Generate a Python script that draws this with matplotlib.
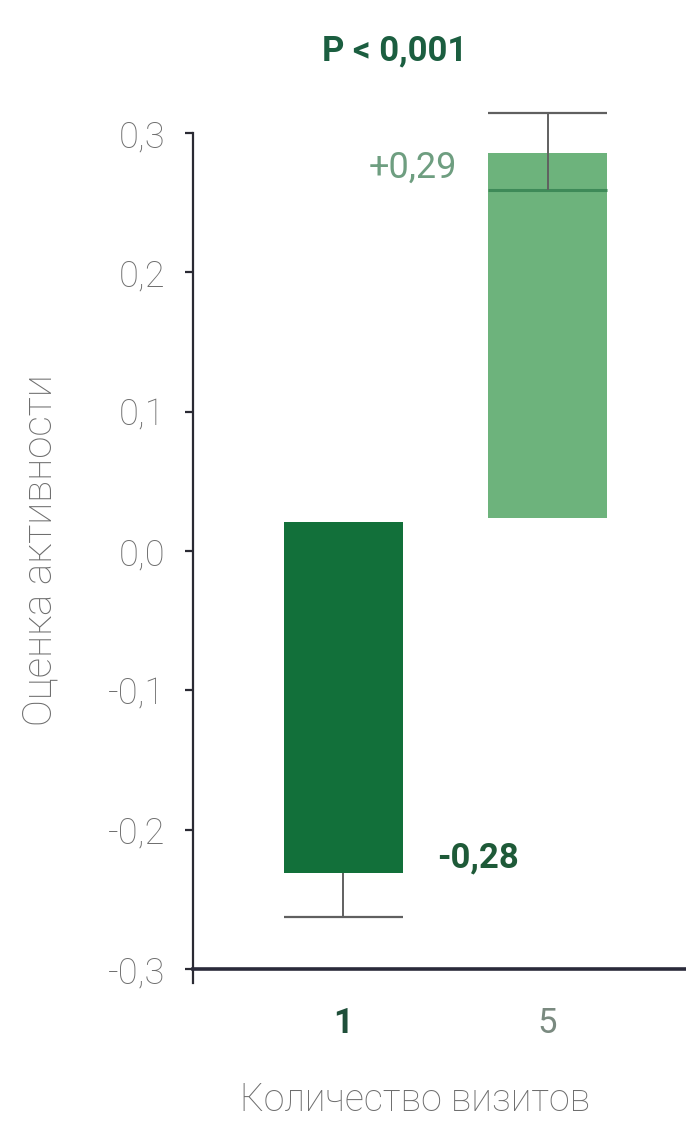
import matplotlib
matplotlib.use("Agg")
import matplotlib.pyplot as plt
import numpy as np

plt.rcParams['font.family'] = ['Roboto', 'DejaVu Sans']

# ---- data ----
categories = ["1", "5"]
bar_bottom = [-0.231, 0.024]
bar_top = [0.021, 0.286]
mean_line = [None, 0.259]
err_from = [-0.231, 0.259]
err_to = [-0.2625, 0.314]
value_labels = ["-0,28", "+0,29"]
yticks = [-0.3, -0.2, -0.1, 0.0, 0.1, 0.2, 0.3]
ytick_labels = ["-0,3", "-0,2", "-0,1", "0,0", "0,1", "0,2", "0,3"]
p_text = "P < 0,001"
ylabel = "Оценка активности"
xlabel = "Количество визитов"

bar_colors = ["#12703A", "#6DB37C"]
label_colors = ["#1E5A38", "#6E9E80"]
label_weights = ["bold", "normal"]
tick_colors = ["#1F4F3A", "#7A8A80"]

W, H = 686, 1123
fig = plt.figure(figsize=(W / 100, H / 100), dpi=100)
fig.patch.set_facecolor("white")

left_px, right_px = 193, 686
top_px, bottom_px = 133, 983
ax = fig.add_axes([left_px / W, 1 - bottom_px / H, (right_px - left_px) / W, (bottom_px - top_px) / H])

x = np.arange(len(categories))
width = 0.582
ax.set_xlim(-0.7335, 1.677)
ax.set_ylim(-0.31, 0.3)

heights = [t - b for t, b in zip(bar_top, bar_bottom)]
ax.bar(x, heights, bottom=bar_bottom, width=width, color=bar_colors, edgecolor="none", zorder=2)

for i in range(len(categories)):
    if mean_line[i] is not None:
        ax.hlines(mean_line[i], x[i] - width / 2, x[i] + width / 2, color="#3E8A58", lw=2.2, zorder=3)
    ax.vlines(x[i], err_from[i], err_to[i], color="#606060", lw=1.4, zorder=3, clip_on=False)
    ax.hlines(err_to[i], x[i] - width / 2, x[i] + width / 2, color="#606060", lw=1.6, zorder=3, clip_on=False)

# value labels
ax.annotate(value_labels[0], xy=(x[0] + width / 2, bar_bottom[0]), xytext=(25, 11),
            textcoords="offset points", ha="left", va="center", fontsize=25,
            fontweight=label_weights[0], color=label_colors[0])
ax.annotate(value_labels[1], xy=(x[1] - width / 2, bar_top[1]), xytext=(-22, -11),
            textcoords="offset points", ha="right", va="center", fontsize=26,
            fontweight=label_weights[1], color=label_colors[1])

# spines
for s in ["top", "right"]:
    ax.spines[s].set_visible(False)
ax.spines["left"].set_bounds(-0.31, 0.3)
ax.spines["left"].set_linewidth(1.6)
ax.spines["left"].set_color("#2A2A33")
ax.spines["bottom"].set_position(("data", -0.3))
ax.spines["bottom"].set_linewidth(2.6)
ax.spines["bottom"].set_color("#2A2A3A")

ax.set_yticks(yticks)
ax.set_yticklabels(ytick_labels)
ax.tick_params(axis="y", length=6, width=1.6, color="#2A2A33", pad=14, labelsize=26, labelcolor="#6E6E6E")
for lbl in ax.get_yticklabels():
    lbl.set_fontweight("light")
ax.set_xticks(x)
ax.set_xticklabels(categories)
ax.tick_params(axis="x", length=0, pad=27, labelsize=25)
for lbl, c, w in zip(ax.get_xticklabels(), tick_colors, label_weights):
    lbl.set_color(c)
    lbl.set_fontweight(w)

fig.text(395 / W, 1 - 51 / H, p_text, ha="center", va="center", fontsize=25,
         fontweight="bold", color="#1B5E40")
fig.text(40 / W, 1 - 550 / H, ylabel, ha="center", va="center", rotation=90,
         fontsize=29, color="#6E6E6E", fontweight="light")
fig.text(415 / W, 1 - 1100 / H, xlabel, ha="center", va="center",
         fontsize=27, color="#6E6E6E", fontweight="light")

fig.savefig("out.png", dpi=100, facecolor="white")
